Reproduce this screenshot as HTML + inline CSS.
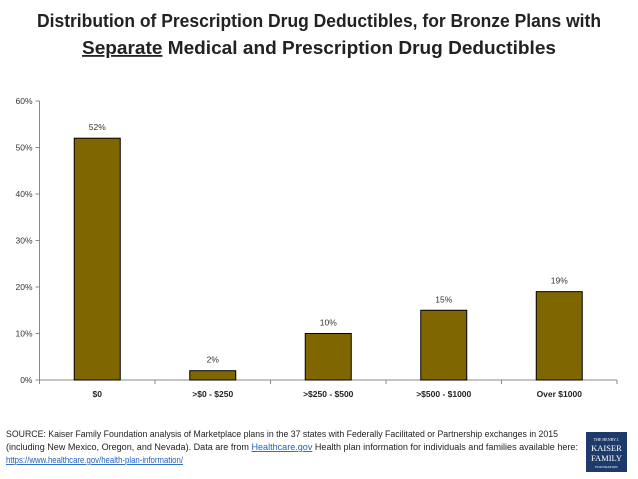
<!DOCTYPE html>
<html><head><meta charset="utf-8"><style>
body{margin:0;background:#fff;}
svg{display:block;font-family:"Liberation Sans",sans-serif;}
</style></head><body>
<svg width="638" height="479" viewBox="0 0 638 479">
<text x="319" y="27" text-anchor="middle" font-size="18" font-weight="bold" fill="#222" textLength="564" lengthAdjust="spacingAndGlyphs">Distribution of Prescription Drug Deductibles, for Bronze Plans with</text>
<text x="319" y="54" text-anchor="middle" font-size="18" font-weight="bold" fill="#222" textLength="474" lengthAdjust="spacingAndGlyphs"><tspan text-decoration="underline">Separate</tspan> Medical and Prescription Drug Deductibles</text>
<g id="plot"></g>
<text x="6" y="437" font-size="9" fill="#222" textLength="552" lengthAdjust="spacingAndGlyphs">SOURCE: Kaiser Family Foundation analysis of Marketplace plans in the 37 states with Federally Facilitated or Partnership exchanges in 2015</text>
<text x="6" y="450" font-size="9" fill="#222" textLength="572" lengthAdjust="spacingAndGlyphs">(including New Mexico, Oregon, and Nevada). Data are from <tspan fill="#1f5fbf" text-decoration="underline">Healthcare.gov</tspan> Health plan information for individuals and families available here:</text>
<text x="6" y="463" font-size="9" fill="#1f5fbf" text-decoration="underline" textLength="177" lengthAdjust="spacingAndGlyphs">https://www.healthcare.gov/health-plan-information/</text>
<g>
<rect x="586" y="432" width="41" height="40" fill="#1d3a6b"/>
<text x="606.5" y="441" text-anchor="middle" font-size="4" fill="#fff" font-family="Liberation Serif,serif">THE HENRY J.</text>
<text x="606.5" y="451" text-anchor="middle" font-size="8.5" fill="#fff" font-family="Liberation Serif,serif">KAISER</text>
<text x="606.5" y="461" text-anchor="middle" font-size="8.5" fill="#fff" font-family="Liberation Serif,serif">FAMILY</text>
<text x="606.5" y="468" text-anchor="middle" font-size="3.5" fill="#fff" font-family="Liberation Serif,serif">FOUNDATION</text>
</g>
</svg>
<script>
const categories = ["$0", ">$0 - $250", ">$250 - $500", ">$500 - $1000", "Over $1000"];
const values = [52, 2, 10, 15, 19];
const valueLabels = ["52%", "2%", "10%", "15%", "19%"];
const yTicks = [0, 10, 20, 30, 40, 50, 60];
const ns = "http://www.w3.org/2000/svg";
const g = document.getElementById("plot");
const x0 = 39.5, x1 = 617, y0 = 380, y1 = 101, yMax = 60;
const band = (x1 - x0) / categories.length;
const yS = v => y0 - (v / yMax) * (y0 - y1);
const xC = i => x0 + band * (i + 0.5);
function mk(tag, attrs, txt){const e=document.createElementNS(ns,tag);for(const k in attrs)e.setAttribute(k,attrs[k]);if(txt!==undefined)e.textContent=txt;g.appendChild(e);return e;}
yTicks.forEach(t=>{
  const y=yS(t);
  const l=mk("line",{x1:x0-4,x2:x0,y1:y,y2:y,stroke:"#888","stroke-width":1});
  
  
  const tx=mk("text",{x:x0-7,y:y+3,"text-anchor":"end","font-size":8.5,fill:"#333"},t+"%");
  
  
});
const ya=mk("line",{x1:x0,x2:x0,y1:y1,y2:y0,stroke:"#888","stroke-width":1});


const xa=mk("line",{x1:x0,x2:x1,y1:y0,y2:y0,stroke:"#888","stroke-width":1});


for(let i=0;i<=categories.length;i++){
  const x=x0+band*i;
  const l=mk("line",{x1:x,x2:x,y1:y0,y2:y0+4,stroke:"#888","stroke-width":1});
  
  
}
const bw=46;
categories.forEach((c,i)=>{
  const cx=xC(i), y=yS(values[i]);
  const r=mk("rect",{x:cx-bw/2,y:y,width:bw,height:y0-y,fill:"#806600",stroke:"#000","stroke-width":1});
  
  
  const vl=mk("text",{x:cx,y:y-8,"text-anchor":"middle","font-size":8.5,fill:"#333"},valueLabels[i]);
  
  
  const cl=mk("text",{x:cx,y:y0+17,"text-anchor":"middle","font-size":8.5,"font-weight":"bold",fill:"#222"},c);
  
  
});
</script>
</body></html>
